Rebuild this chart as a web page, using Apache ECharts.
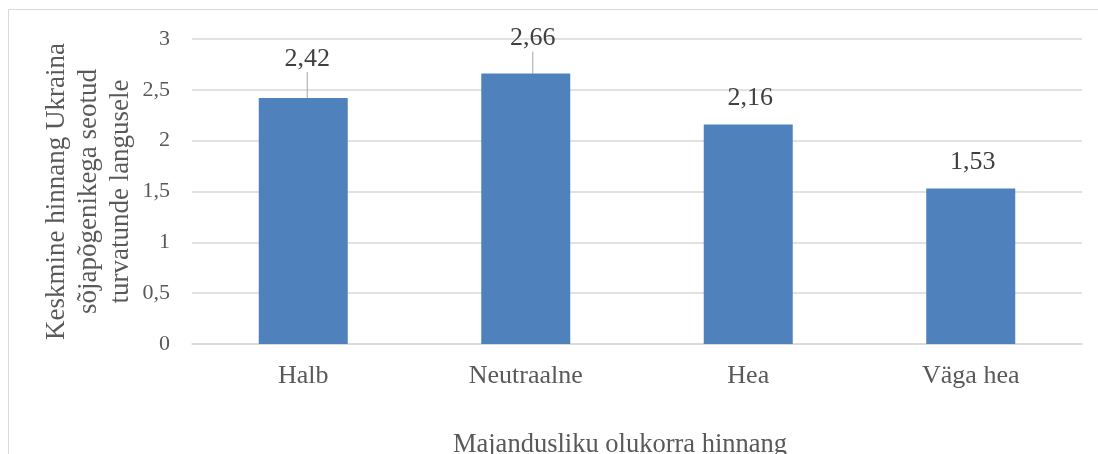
<!DOCTYPE html>
<html>
<head>
<meta charset="utf-8">
<script src="https://cdn.jsdelivr.net/npm/echarts@6/dist/echarts.min.js"></script>
<style>
  html, body { margin: 0; padding: 0; background: #fff; }
  #chart { width: 1098px; height: 454px; }
</style>
</head>
<body>
<div id="chart"></div>
<script>
// hinnangu kategooriad ja keskmised
var categories = ['Halb', 'Neutraalne', 'Hea', 'Väga hea'];
var values = [2.42, 2.66, 2.16, 1.53];
var yTicks = [0, 0.5, 1, 1.5, 2, 2.5, 3];

var FONT = '"Liberation Serif", "Times New Roman", serif';
function comma(v) { return String(v).replace('.', ','); }

// silte kahel esimesel tulbal nihutatakse üles (juhtjoonega)
var labelShift = [[4, -13], [7, -9], [2, 0], [2, 0]];
var withLine = [true, true, false, false];

var chart = echarts.init(document.getElementById('chart'));
var option = {
    animation: false,
    backgroundColor: '#fff',
    graphic: [{
        type: 'rect',
        shape: { x: 8.5, y: 9.5, width: 1200, height: 600 },
        style: { fill: 'none', stroke: '#d9d9d9', lineWidth: 1 },
        silent: true
    }],
    grid: { left: 192, right: 16, top: 39, bottom: 110, outerBoundsMode: 'none', containLabel: false },
    xAxis: {
        type: 'category',
        data: categories,
        name: 'Majandusliku olukorra hinnang',
        nameLocation: 'middle',
        nameGap: 88,
        nameMoveOverlap: false,
        nameTextStyle: { fontFamily: FONT, fontSize: 26.5, color: '#595959', padding: [0, 34, 0, 0] },
        axisLine: { lineStyle: { color: '#d9d9d9', width: 1.5 } },
        axisTick: { show: false },
        axisLabel: { fontFamily: FONT, fontSize: 26, color: '#595959', margin: 19 }
    },
    yAxis: {
        type: 'value',
        min: yTicks[0],
        max: yTicks[yTicks.length - 1],
        interval: 0.5,
        name: 'Keskmine hinnang Ukraina\nsõjapõgenikega seotud\nturvatunde langusele',
        nameLocation: 'middle',
        nameRotate: 90,
        nameGap: 55,
        nameMoveOverlap: false,
        nameTextStyle: { fontFamily: FONT, fontSize: 27, color: '#595959', lineHeight: 32 },
        axisLine: { show: false },
        axisTick: { show: false },
        axisLabel: {
            fontFamily: FONT, fontSize: 22, color: '#595959', margin: 22,
            formatter: function (v) { return comma(v); }
        },
        splitLine: { lineStyle: { color: '#d9d9d9', width: 1.5 } }
    },
    series: [{
        type: 'bar',
        data: values.map(function (v, i) {
            return { value: v, labelLine: { show: withLine[i] } };
        }),
        barWidth: '40%',
        itemStyle: { color: '#4f81bd' },
        label: {
            show: true,
            position: 'top',
            distance: 13,
            fontFamily: FONT,
            fontSize: 26,
            color: '#404040',
            formatter: function (p) { return comma(p.value); }
        },
        labelLine: { show: true, lineStyle: { color: '#a6a6a6', width: 1 } },
        labelLayout: function (p) {
            var s = labelShift[p.dataIndex];
            return { dx: s[0], dy: s[1] };
        }
    }]
};
chart.setOption(option);
</script>
</body>
</html>
